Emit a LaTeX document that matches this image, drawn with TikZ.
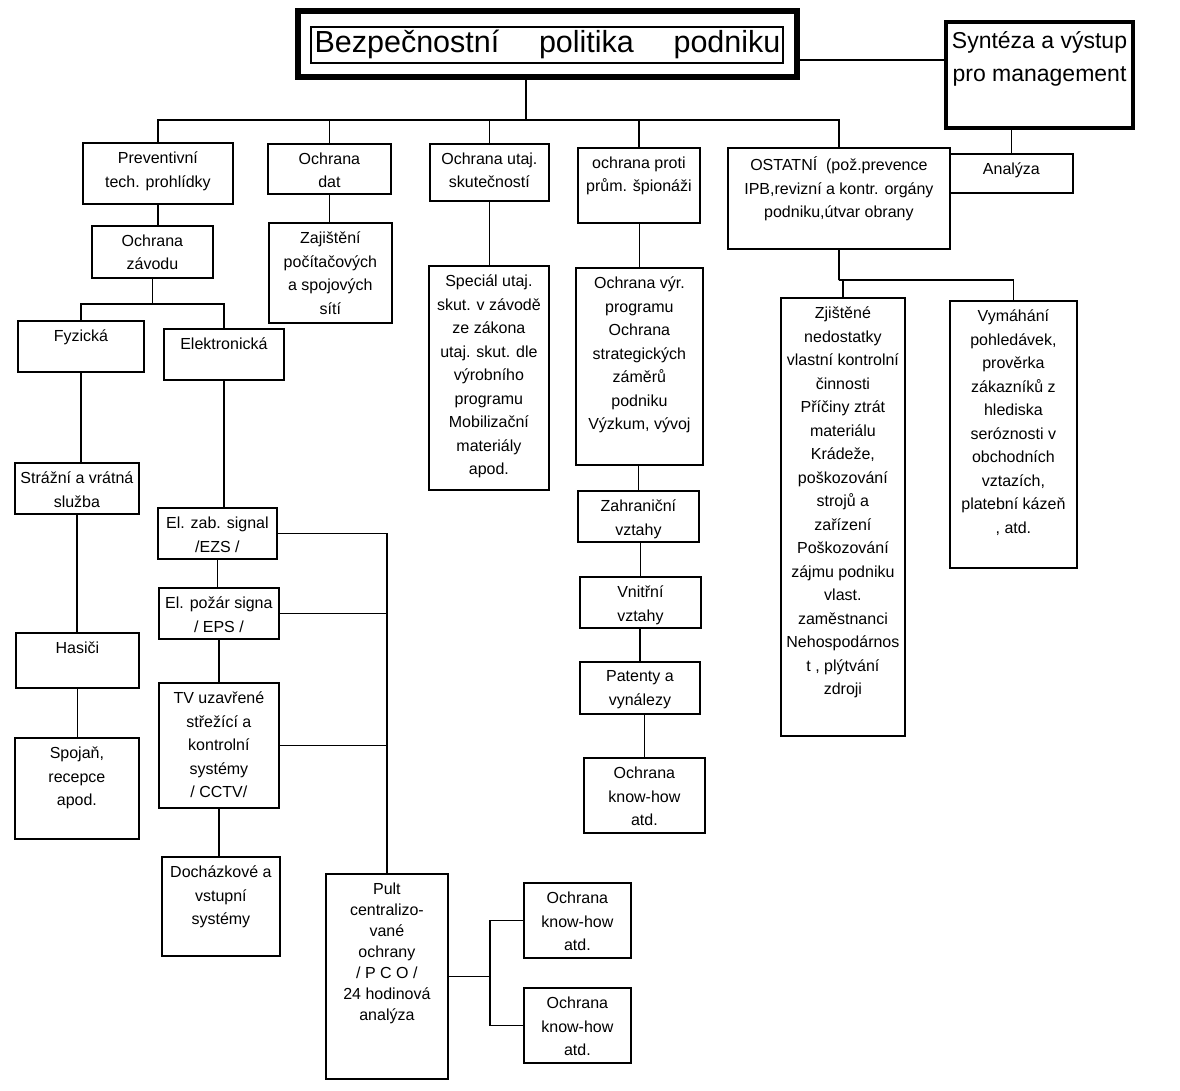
\documentclass[tikz,border=0pt]{standalone}
\usepackage{fontspec}
\setmainfont{Liberation Sans}
\newcommand{\cellbox}[3]{\parbox[t][#2pt][t]{#1pt}{\vspace*{9pt}\centering#3\par}}

\begin{document}
\begin{tikzpicture}[x=1pt, y=-1pt,
    cell/.style={draw, rectangle, line width=1.8pt, inner sep=0pt, anchor=north west,
      font=\fontsize{16}{23.5}\selectfont},
    link/.style={line width=1.8pt}]
  \useasboundingbox (0,0) rectangle (1180,1090);
  \fill[white] (0,0) rectangle (1180,1090);

  % top level
  \node[draw, rectangle, line width=6pt, minimum width=499pt, minimum height=66pt, inner sep=0pt,
    font=\fontsize{30.5}{36}\selectfont] (title) at (547.5,44)
    {Bezpečnostní\hspace{1.3em}politika\hspace{1.3em}podniku};
  \draw[line width=1.5pt] ([shift={(16,19)}]title.north west) rectangle ([shift={(-17,-17)}]title.south east);
  \node[cell, line width=4pt, font=\fontsize{23}{33}\selectfont] (synteza) at (944,20)
    {\parbox[t][106pt][t]{187pt}{\vspace*{10pt}\centering Syntéza a výstup\\pro management\par}};
  \node[cell] (analyza) at (949,153) {\cellbox{123}{39}{Analýza}};

  % second row
  \node[cell] (prev) at (82,142) {\cellbox{150}{61}{Preventivní\\tech. prohlídky}};
  \node[cell] (dat) at (267,143) {\cellbox{123}{50}{Ochrana\\dat}};
  \node[cell] (utaj) at (429,143) {\cellbox{119}{57}{Ochrana utaj.\\skutečností}};
  \node[cell] (proti) at (577,147) {\cellbox{122}{75}{ochrana proti\\prům. špionáži}};
  \node[cell] (ostatni) at (727,147)
    {\cellbox{222}{101}{OSTATNÍ\ \ (pož.prevence\\IPB,revizní a kontr. orgány\\podniku,útvar obrany}};

  % physical and electronic protection
  \node[cell] (zavod) at (91,225) {\cellbox{121}{52}{Ochrana\\závodu}};
  \node[cell] (fyz) at (17,320) {\cellbox{126}{51}{Fyzická}};
  \node[cell] (elek) at (163,328) {\cellbox{120}{51}{Elektronická}};
  \node[cell] (straz) at (14,462) {\cellbox{124}{51}{Strážní a vrátná\\služba}};
  \node[cell] (hasici) at (15,632) {\cellbox{123}{55}{Hasiči}};
  \node[cell] (spoj) at (14,737) {\cellbox{124}{101}{Spojaň,\\recepce\\apod.}};
  \node[cell] (ezs) at (157,507) {\cellbox{119}{51}{El. zab. signal\\/EZS /}};
  \node[cell] (eps) at (158,587) {\cellbox{120}{51}{El. požár signa\\/ EPS /}};
  \node[cell] (tv) at (158,682)
    {\cellbox{120}{125}{TV uzavřené\\střežící a\\kontrolní\\systémy\\/ CCTV/}};
  \node[cell] (doch) at (161,856) {\cellbox{118}{99}{Docházkové a\\vstupní\\systémy}};
  \node[cell, font=\fontsize{16}{21}\selectfont] (pult) at (325,873)
    {\cellbox{122}{205}{Pult\\centralizo-\\vané\\ochrany\\/ P C O /\\24 hodinová\\analýza}};
  \node[cell] (kh1) at (523,882) {\cellbox{107}{75}{Ochrana\\know-how\\atd.}};
  \node[cell] (kh2) at (523,987) {\cellbox{107}{75}{Ochrana\\know-how\\atd.}};

  % data, secrets, espionage
  \node[cell] (zaj) at (268,222) {\cellbox{123}{100}{Zajištění\\počítačových\\a spojových\\sítí}};
  \node[cell] (spec) at (428,265)
    {\cellbox{120}{224}{Speciál utaj.\\skut. v závodě\\ze zákona\\utaj. skut. dle\\výrobního\\programu\\Mobilizační\\materiály\\apod.}};
  \node[cell] (vyr) at (575,267)
    {\cellbox{127}{197}{Ochrana výr.\\programu\\Ochrana\\strategických\\záměrů\\podniku\\Výzkum, vývoj}};
  \node[cell] (zahr) at (577,490) {\cellbox{121}{51}{Zahraniční\\vztahy}};
  \node[cell] (vnitr) at (579,576) {\cellbox{121}{51}{Vnitřní\\vztahy}};
  \node[cell] (pat) at (579,661) {\cellbox{120}{52}{Patenty a\\vynálezy}};
  \node[cell] (kh0) at (583,757) {\cellbox{121}{75}{Ochrana\\know-how\\atd.}};

  % others
  \node[cell] (zjist) at (780,297)
    {\cellbox{124}{438}{Zjištěné\\nedostatky\\vlastní kontrolní\\činnosti\\Příčiny ztrát\\materiálu\\Krádeže,\\poškozování\\strojů a\\zařízení\\Poškozování\\zájmu podniku\\vlast.\\zaměstnanci\\Nehospodárnos\\t , plýtvání\\zdroji}};
  \node[cell] (vym) at (949,300)
    {\cellbox{127}{267}{Vymáhání\\pohledávek,\\prověrka\\zákazníků z\\hlediska\\seróznosti v\\obchodních\\vztazích,\\platební kázeň\\, atd.}};

  % connectors
  \draw[link] ([yshift=-16pt]title.east) -- ([yshift=-16pt]title.east -| synteza.west);
  \draw[link] (synteza.south -| analyza.north) -- (analyza.north);
  \coordinate (bus) at (526,120);
  \draw[link] (title.south -| bus) -- (bus);
  \draw[link] (prev.north) |- (bus) -| (ostatni.north);
  \draw[link] (dat.north) -- (dat.north |- bus);
  \draw[link] (utaj.north) -- (utaj.north |- bus);
  \draw[link] (proti.north) -- (proti.north |- bus);

  \draw[link] (prev.south) -- (prev.south |- zavod.north);
  \draw[link] (zavod.south) -- ++(0,25) coordinate (split1);
  \draw[link] (fyz.north) |- (split1) -| (elek.north);
  \draw[link] (fyz.south) -- (fyz.south |- straz.north);
  \draw[link] (straz.south) -- (straz.south |- hasici.north);
  \draw[link] (hasici.south) -- (hasici.south |- spoj.north);
  \draw[link] (elek.south) -- (elek.south |- ezs.north);
  \draw[link] (ezs.south) -- (ezs.south |- eps.north);
  \draw[link] (eps.south) -- (eps.south |- tv.north);
  \draw[link] (tv.south) -- (tv.south |- doch.north);
  \draw[link] (ezs.east) -| (pult.north);
  \draw[link] (eps.east) -- (eps.east -| pult.north);
  \draw[link] (tv.east) -- (tv.east -| pult.north);
  \draw[link] (pult.east) -- ++(41,0) coordinate (fork);
  \draw[link] (kh1.west) -| (fork) |- (kh2.west);

  \draw[link] (dat.south) -- (dat.south |- zaj.north);
  \draw[link] (utaj.south) -- (utaj.south |- spec.north);
  \draw[link] (vyr.north |- proti.south) -- (vyr.north);
  \draw[link] (zahr.north |- vyr.south) -- (zahr.north);
  \draw[link] (vnitr.north |- zahr.south) -- (vnitr.north);
  \draw[link] (pat.north |- vnitr.south) -- (pat.north);
  \draw[link] (kh0.north |- pat.south) -- (kh0.north);

  \draw[link] (ostatni.south) -- ++(0,30) coordinate (split2);
  \draw[link] (zjist.north) |- (split2) -| (vym.north);
\end{tikzpicture}
\end{document}
